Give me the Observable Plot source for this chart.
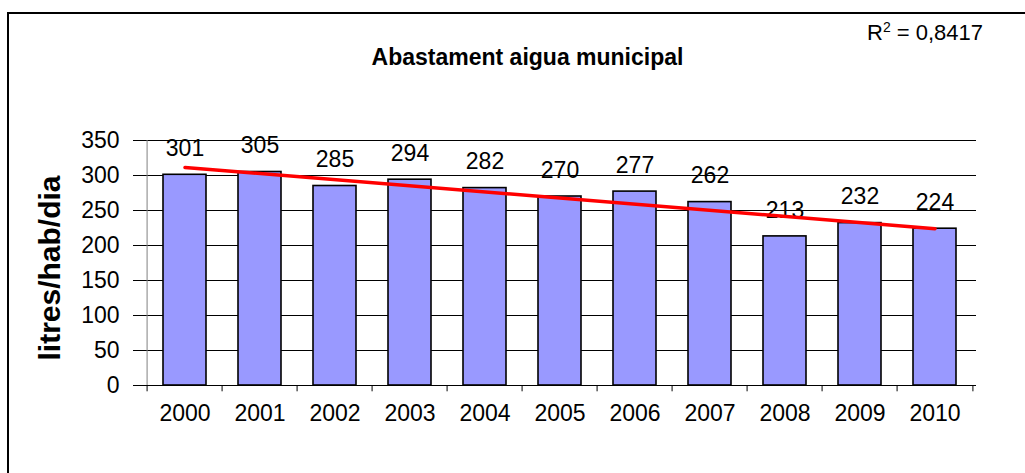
<!DOCTYPE html>
<html><head><meta charset="utf-8">
<script src="https://cdn.jsdelivr.net/npm/d3@7"></script>
<script src="https://cdn.jsdelivr.net/npm/@observablehq/plot@0.6"></script>
<style>
body{margin:0;background:#fff;}
#wrap{position:relative;width:1025px;height:473px;overflow:hidden;font-family:"Liberation Sans",Arial,sans-serif;color:#000;}
#frame{position:absolute;left:7px;top:12px;width:1100px;height:600px;border-left:2px solid #000;border-top:2px solid #000;}
#title{position:absolute;left:0;width:1055px;top:44px;text-align:center;font-weight:bold;font-size:23px;line-height:26px;}
#r2{position:absolute;left:867px;top:20px;font-size:22px;line-height:26px;}
#r2 sup{font-size:14px;line-height:0;vertical-align:8px;}
#ylab{position:absolute;left:50px;top:268px;transform:translate(-50%,-50%) rotate(-90deg);font-weight:bold;font-size:30px;white-space:nowrap;line-height:34px;}
#chart{position:absolute;left:0;top:0;}
</style>
</head><body>
<div id="wrap">
  <div id="frame"></div>
  <div id="chart"></div>
  <div id="title">Abastament aigua municipal</div>
  <div id="r2">R<sup>2</sup> = 0,8417</div>
  <div id="ylab"></div>
</div>
<script>
const years = ["2000","2001","2002","2003","2004","2005","2006","2007","2008","2009","2010"];
const values = [301,305,285,294,282,270,277,262,213,232,224];
const yTicks = [0,50,100,150,200,250,300,350];
const yLabel = "litres/hab/dia";

const data = years.map((year, i) => ({year, value: values[i]}));
const idx = d3.range(values.length);
const mx = d3.mean(idx), my = d3.mean(values);
const slope = d3.sum(idx, i => (i - mx) * (values[i] - my)) / d3.sum(idx, i => (i - mx) ** 2);
const intercept = my - slope * mx;
const trend = [
  {year: years[0], value: intercept},
  {year: years[years.length - 1], value: intercept + slope * (values.length - 1)}
];

const W = 1025, H = 473, mL = 142, mR = 49, mT = 140, mB = 88;
const bw = (W - mL - mR) / years.length;

const chart = Plot.plot({
  width: W, height: H,
  marginLeft: mL, marginRight: mR, marginTop: mT, marginBottom: mB,
  style: {fontFamily: "'Liberation Sans', Arial, sans-serif", background: "transparent", color: "#000"},
  x: {domain: years, padding: 0, label: null},
  y: {domain: [0, 350], ticks: yTicks, label: null},
  marks: [
    Plot.gridY(yTicks.filter(d => d > 0), {stroke: "#000", strokeOpacity: 1, strokeWidth: 1}),
    Plot.barY(data, {x: "year", y: "value", fill: "#9999ff", stroke: "#000", strokeWidth: 1.6, insetLeft: 16, insetRight: 16}),
    Plot.ruleX([years[0]], {x: d => d, dx: -bw / 2, y1: 0, y2: 350, stroke: "#808080", strokeWidth: 1}),
    Plot.ruleX(years, {x: d => d, dx: -bw / 2, y1: 0, y2: -9, stroke: "#000"}),
    Plot.ruleX([years[years.length - 1]], {x: d => d, dx: bw / 2, y1: 0, y2: -9, stroke: "#000"}),
    Plot.ruleY([0], {stroke: "#000"}),
    Plot.axisY({ticks: yTicks, tickSize: 9, tickPadding: 14, fontSize: 23, stroke: "#000"}),
    Plot.axisX({tickSize: 0, tickPadding: 19, fontSize: 23}),
    Plot.text(data, {x: "year", y: "value", text: d => String(d.value), dy: -26, fontSize: 23}),
    Plot.line(trend, {x: "year", y: "value", stroke: "#ff0000", strokeWidth: 3.5})
  ]
});
document.getElementById("chart").appendChild(chart);
document.getElementById("ylab").textContent = yLabel;
</script>
</body></html>
